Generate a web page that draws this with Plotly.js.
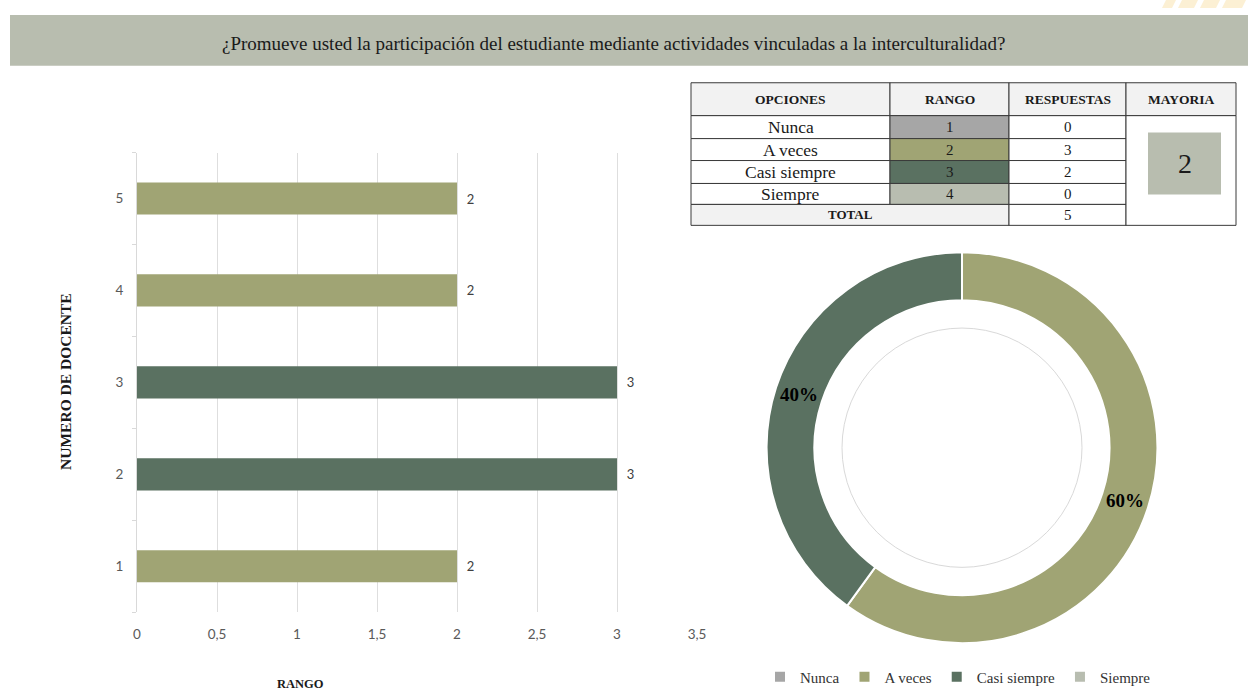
<!DOCTYPE html>
<html>
<head>
<meta charset="utf-8">
<script src="https://cdn.plot.ly/plotly-3.0.1.min.js"></script>
<style>
html,body{margin:0;padding:0;background:#ffffff;}
#chart{width:1248px;height:694px;}
</style>
</head>
<body>
<div id="chart"></div>
<script>
// ---------- DATA ----------
const titleText = '¿Promueve usted la participación del estudiante mediante actividades vinculadas a la interculturalidad?';
const docentes = ['1', '2', '3', '4', '5'];
const rangoDocente = [2, 3, 3, 2, 2];
const opciones = ['Nunca', 'A veces', 'Casi siempre', 'Siempre'];
const rangos = [1, 2, 3, 4];
const respuestas = [0, 3, 2, 0];
const totalRespuestas = 5;
const mayoria = 2;
const xTicks = [0, 0.5, 1, 1.5, 2, 2.5, 3, 3.5];
const headers = ['OPCIONES', 'RANGO', 'RESPUESTAS', 'MAYORIA'];
const xAxisTitle = 'RANGO';
const yAxisTitle = 'NUMERO DE DOCENTE';

// ---------- STYLE ----------
const colores = ['#a6a6a6', '#a0a474', '#5a7161', '#b8bdb0'];
const bandColor = '#b8bdaf';
const serif = 'Liberation Serif';
const sans = 'Lato';
const W = 1248, H = 694;
const px = x => x / W;
const py = y => 1 - y / H;

// ---------- TRACES ----------
const barTrace = {
  type: 'bar',
  orientation: 'h',
  y: docentes,
  x: rangoDocente,
  width: 0.35,
  marker: { color: rangoDocente.map(v => colores[rangos.indexOf(v)]) },
  texttemplate: '  %{x}',
  textposition: 'outside',
  textfont: { family: sans, size: 13, color: '#404040' },
  cliponaxis: false,
  showlegend: false,
  hoverinfo: 'x+y',
  xaxis: 'x', yaxis: 'y'
};

const pieTrace = {
  type: 'pie',
  labels: opciones,
  values: respuestas,
  sort: false,
  direction: 'clockwise',
  rotation: 0,
  hole: 0.755,
  marker: { colors: colores, line: { color: '#ffffff', width: 2 } },
  domain: { x: [px(766), px(1158)], y: [py(645), py(253)] },
  texttemplate: '%{percent:.0%}',
  textposition: 'inside',
  insidetextorientation: 'horizontal',
  textfont: { family: serif, size: 19, color: '#000000', weight: 'bold' },
  showlegend: true
};

// ---------- TABLE (shapes + annotations) ----------
const colEdges = [691, 890, 1009, 1126, 1236];
const rowEdges = [83, 116, 139, 161, 184, 205, 226];
const lineCol = '#3a3a3a';
const shapes = [];
const annotations = [];

// title band
shapes.push({ type: 'rect', xref: 'paper', yref: 'paper', layer: 'below',
  x0: px(10), x1: 1, y0: py(66), y1: py(15),
  fillcolor: bandColor, line: { width: 0 } });
// faint logo fragment at top right
[[1162, 1172], [1178, 1194], [1200, 1216], [1222, 1242]].forEach(([a, b]) => {
  shapes.push({ type: 'path', xref: 'paper', yref: 'paper', layer: 'below',
    path: `M ${px(a + 4)} ${py(0)} L ${px(b + 4)} ${py(0)} L ${px(b)} ${py(8)} L ${px(a)} ${py(8)} Z`,
    fillcolor: '#fcf0d4', line: { width: 0 } });
});

function cell(c0, c1, r0, r1, fill) {
  shapes.push({ type: 'rect', xref: 'paper', yref: 'paper', layer: 'above',
    x0: px(colEdges[c0]), x1: px(colEdges[c1]), y0: py(rowEdges[r1]), y1: py(rowEdges[r0]),
    fillcolor: fill, line: { color: lineCol, width: 1 } });
}
function txt(c0, c1, r0, r1, text, size, bold) {
  annotations.push({ xref: 'paper', yref: 'paper', showarrow: false,
    x: px((colEdges[c0] + colEdges[c1]) / 2), y: py((rowEdges[r0] + rowEdges[r1]) / 2),
    xanchor: 'center', yanchor: 'middle', text: text,
    font: { family: serif, size: size, color: '#1a1a1a', weight: bold ? 'bold' : 'normal' } });
}
// header
headers.forEach((h, c) => { cell(c, c + 1, 0, 1, '#f2f2f2'); txt(c, c + 1, 0, 1, h, 13.5, true); });
// body rows
opciones.forEach((o, i) => {
  const r = i + 1;
  cell(0, 1, r, r + 1, '#ffffff'); txt(0, 1, r, r + 1, o, 17.5, false);
  cell(1, 2, r, r + 1, colores[i]); txt(1, 2, r, r + 1, String(rangos[i]), 15, false);
  cell(2, 3, r, r + 1, '#ffffff'); txt(2, 3, r, r + 1, String(respuestas[i]), 15, false);
});
// total row
cell(0, 2, 5, 6, '#f2f2f2'); txt(0, 2, 5, 6, 'TOTAL', 13, true);
cell(2, 3, 5, 6, '#ffffff'); txt(2, 3, 5, 6, String(totalRespuestas), 15, false);
// mayoria merged cell
cell(3, 4, 1, 6, '#ffffff');
shapes.push({ type: 'rect', xref: 'paper', yref: 'paper', layer: 'above',
  x0: px(1148), x1: px(1221), y0: py(195), y1: py(133),
  fillcolor: bandColor, line: { width: 0 } });
annotations.push({ xref: 'paper', yref: 'paper', showarrow: false,
  x: px(1184.5), y: py(164), xanchor: 'center', yanchor: 'middle',
  text: String(mayoria), font: { family: serif, size: 28, color: '#1a1a1a' } });

// thin inner circle of donut
shapes.push({ type: 'circle', xref: 'paper', yref: 'paper', layer: 'above',
  x0: px(842), x1: px(1082), y0: py(569), y1: py(329),
  line: { color: '#d9d9d9', width: 1 }, fillcolor: 'rgba(0,0,0,0)' });

// chart title
annotations.push({ xref: 'paper', yref: 'paper', showarrow: false,
  x: px(613), y: py(44), xanchor: 'center', yanchor: 'middle', text: titleText,
  font: { family: serif, size: 19, color: '#1a1a1a' } });

// axis titles
annotations.push({ xref: 'paper', yref: 'paper', showarrow: false,
  x: px(300), y: py(686), xanchor: 'center', yanchor: 'middle', text: xAxisTitle,
  font: { family: serif, size: 12.5, color: '#1a1a1a', weight: 'bold' } });
annotations.push({ xref: 'paper', yref: 'paper', showarrow: false,
  x: px(66), y: py(383), xanchor: 'center', yanchor: 'middle', text: yAxisTitle, textangle: -90,
  font: { family: serif, size: 15.5, color: '#1a1a1a', weight: 'bold' } });

// ---------- LAYOUT ----------
const layout = {
  width: W, height: H,
  margin: { l: 0, r: 0, t: 0, b: 0, pad: 0 },
  paper_bgcolor: '#ffffff', plot_bgcolor: 'rgba(0,0,0,0)',
  separators: ', ',
  xaxis: {
    domain: [px(137), px(697)], range: [0, 3.5], tickvals: xTicks,
    showgrid: true, gridcolor: '#dedede', gridwidth: 1,
    zeroline: false, showline: false, ticks: '',
    ticklabelstandoff: 12,
    tickfont: { family: sans, size: 13.5, color: '#595959' },
    fixedrange: true, anchor: 'y'
  },
  yaxis: {
    domain: [py(614), py(153)], type: 'category', range: [-0.5, 4.5],
    showgrid: false, zeroline: false,
    showline: true, linecolor: '#d9d9d9', linewidth: 1,
    ticks: 'outside', tickson: 'boundaries', ticklen: 4, tickcolor: '#d9d9d9',
    ticklabelstandoff: 10,
    tickfont: { family: sans, size: 13.5, color: '#595959' },
    fixedrange: true, anchor: 'x'
  },
  legend: {
    orientation: 'h', x: px(958), xanchor: 'center', y: py(679), yanchor: 'middle',
    font: { family: serif, size: 15, color: '#333333' },
    traceorder: 'normal', bgcolor: 'rgba(0,0,0,0)'
  },
  shapes: shapes,
  annotations: annotations,
  showlegend: true
};

Plotly.newPlot('chart', [barTrace, pieTrace], layout, { displayModeBar: false, staticPlot: true });
</script>
</body>
</html>
